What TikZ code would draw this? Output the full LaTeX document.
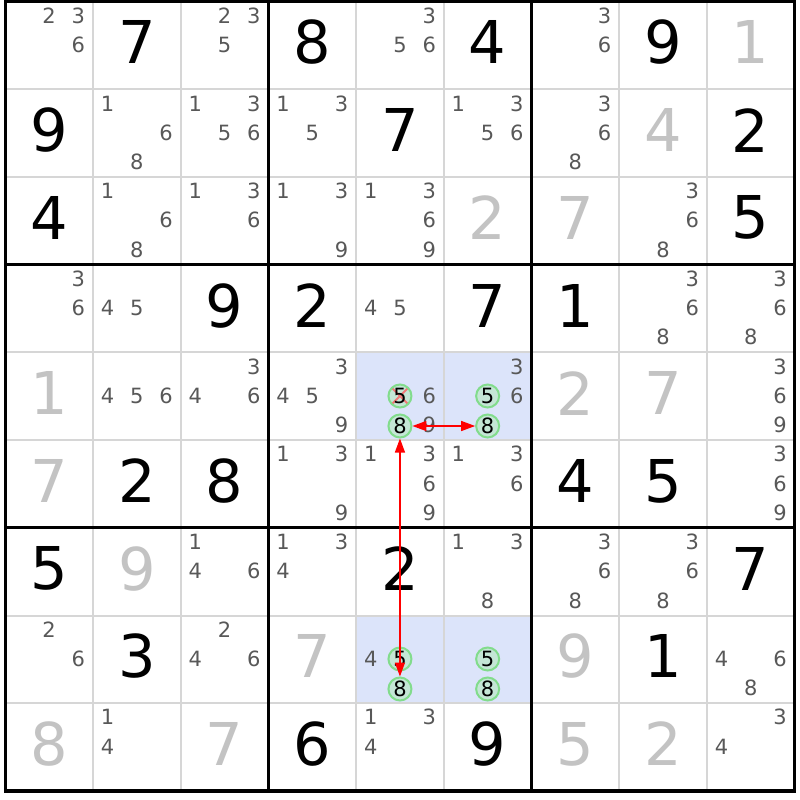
\documentclass[tikz,border=0pt]{standalone}
\usepackage{fontspec}
\setmainfont{DejaVu Sans}
\usetikzlibrary{arrows.meta}
\definecolor{candgray}{RGB}{88,88,88}
\definecolor{solvedgray}{RGB}{195,195,195}
\definecolor{thingray}{RGB}{214,214,214}
\definecolor{shadeblue}{RGB}{220,228,250}
\definecolor{ringgreen}{RGB}{130,220,140}
\definecolor{ringfill}{RGB}{196,230,214}
\definecolor{crossred}{RGB}{240,120,120}
\begin{document}
\begin{tikzpicture}[x=1pt,y=-1pt,
  given/.style={font=\fontsize{59}{59}\selectfont, text=black, inner sep=0},
  solved/.style={given, text=solvedgray},
  cand/.style={font=\fontsize{21}{21}\selectfont, text=candgray, inner sep=0},
  hl/.style={font=\fontsize{21}{21}\selectfont, text=black, circle, draw=ringgreen, fill=ringfill, line width=2, minimum size=23, inner sep=0},
  crossed/.style={path picture={\draw[crossred,line width=2] (path picture bounding box.north west) -- (path picture bounding box.south east) (path picture bounding box.north east) -- (path picture bounding box.south west);}},
  link/.style={red, line width=1.3, {Triangle[length=14,width=10]}-{Triangle[length=14,width=10]}},
  thinline/.style={thingray, line width=2},
  thickline/.style={black, line width=3.2}]
\def\s{87.7}
\def\xo{5.3}
\def\yo{1.6}
\useasboundingbox (0,0) rectangle (800,800);
\fill[white] (0,0) rectangle (800,800);
% shaded cells
\foreach \r/\c in {5/5,5/6,8/5,8/6}
  \fill[shadeblue] ({\xo+(\c-1)*\s},{\yo+(\r-1)*\s}) rectangle ++(\s,\s);
% thin lines
\foreach \i in {1,2,4,5,7,8}{
  \draw[thinline] ({\xo+\i*\s},\yo) -- ({\xo+\i*\s},{\yo+9*\s});
  \draw[thinline] (\xo,{\yo+\i*\s}) -- ({\xo+9*\s},{\yo+\i*\s});
}
% thick lines
\foreach \i in {3,6}{
  \draw[thickline] ({\xo+\i*\s},\yo) -- ({\xo+\i*\s},{\yo+9*\s});
  \draw[thickline] (\xo,{\yo+\i*\s}) -- ({\xo+9*\s},{\yo+\i*\s});
}
\draw[thickline] (\xo,\yo) rectangle ({\xo+9*\s},{\yo+9*\s});
% givens
\foreach \r/\c/\d in {1/2/7,1/4/8,1/6/4,1/8/9,2/1/9,2/5/7,2/9/2,3/1/4,3/9/5,4/3/9,4/4/2,4/6/7,4/7/1,6/2/2,6/3/8,6/7/4,6/8/5,7/1/5,7/5/2,7/9/7,8/2/3,8/8/1,9/4/6,9/6/9}
  \node[given] (g\r\c) at ({\xo+(\c-0.5)*\s},{\yo+(\r-0.5)*\s-3}) {\d};
% solved
\foreach \r/\c/\d in {1/9/1,2/8/4,3/6/2,3/7/7,5/1/1,5/7/2,5/8/7,6/1/7,7/2/9,8/4/7,8/7/9,9/1/8,9/3/7,9/7/5,9/8/2}
  \node[solved] (g\r\c) at ({\xo+(\c-0.5)*\s},{\yo+(\r-0.5)*\s-3}) {\d};
% candidates
\foreach \r/\c/\l in {1/1/{2,3,6},1/3/{2,3,5},1/5/{3,5,6},1/7/{3,6},
  2/2/{1,6,8},2/3/{1,3,5,6},2/4/{1,3,5},2/6/{1,3,5,6},2/7/{3,6,8},
  3/2/{1,6,8},3/3/{1,3,6},3/4/{1,3,9},3/5/{1,3,6,9},3/8/{3,6,8},
  4/1/{3,6},4/2/{4,5},4/5/{4,5},4/8/{3,6,8},4/9/{3,6,8},
  5/2/{4,5,6},5/3/{3,4,6},5/4/{3,4,5,9},5/5/{6,9},5/6/{3,6},5/9/{3,6,9},
  6/4/{1,3,9},6/5/{1,3,6,9},6/6/{1,3,6},6/9/{3,6,9},
  7/3/{1,4,6},7/4/{1,3,4},7/6/{1,3,8},7/7/{3,6,8},7/8/{3,6,8},
  8/1/{2,6},8/3/{2,4,6},8/5/{4},8/9/{4,6,8},
  9/2/{1,4},9/5/{1,3,4},9/9/{3,4}}{
  \foreach \d in \l {
    \pgfmathsetmacro\cx{\xo+(\c-1)*\s+\s*(1+2*mod(\d-1,3))/6}
    \pgfmathsetmacro\cy{\yo+(\r-1)*\s+\s*(1+2*int((\d-1)/3))/6-0.5}
    \node[cand] (k\r\c\d) at (\cx,\cy) {\d};
  }
}
% highlighted candidates
\node[hl,crossed] (h555) at (399.95,396) {5};
\node[hl] (h558) at (399.95,426) {8};
\node[hl] (h565) at (487.65,396) {5};
\node[hl] (h568) at (487.65,426) {8};
\node[hl] (h855) at (399.95,659) {5};
\node[hl] (h858) at (399.95,689) {8};
\node[hl] (h865) at (487.65,659) {5};
\node[hl] (h868) at (487.65,689) {8};
% links
\draw[link] (h558) -- (h568);
\draw[link] (h558) -- (h858);
\end{tikzpicture}
\end{document}
